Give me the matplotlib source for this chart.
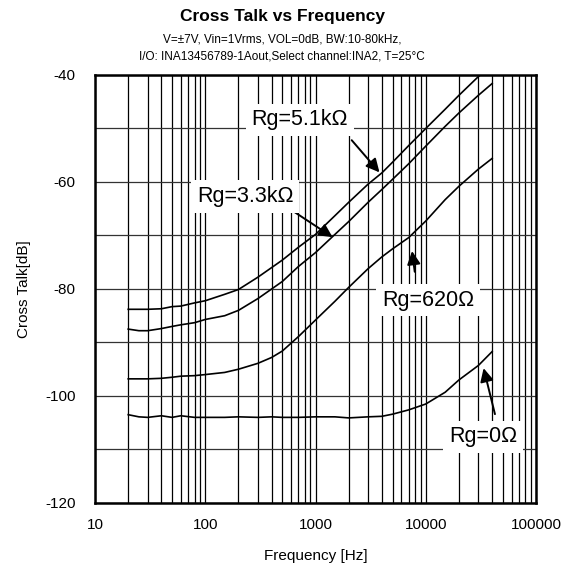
import matplotlib
matplotlib.use("Agg")
import matplotlib.pyplot as plt
from matplotlib.ticker import LogLocator, MultipleLocator, NullFormatter

plt.rcParams['font.family'] = ['Liberation Sans', 'DejaVu Sans']
plt.rcParams['axes.unicode_minus'] = False

freq = [20, 25, 30, 40, 50, 60, 80, 100, 150, 200, 300, 400, 500, 700,
        1000, 1500, 2000, 3000, 4000, 5000, 7000, 10000, 15000, 20000, 30000, 40000]

ct_5k1 = [-83.8, -83.8, -83.8, -83.7, -83.3, -83.2, -82.6, -82.2, -81.0, -80.1, -77.8, -76.0, -74.6, -72.2,
          -69.8, -66.3, -63.8, -60.4, -58.3, -56.3, -53.2, -50.0, -46.4, -43.8, -40.3, -38.3]
ct_3k3 = [-87.5, -87.8, -87.8, -87.4, -87.0, -86.7, -86.3, -85.7, -85.0, -84.0, -81.8, -80.0, -78.6, -75.8,
          -73.2, -69.8, -67.4, -63.8, -61.4, -59.5, -56.6, -53.3, -49.6, -47.1, -43.8, -41.6]
ct_620 = [-96.8, -96.8, -96.8, -96.7, -96.5, -96.3, -96.2, -96.0, -95.6, -95.0, -93.9, -92.8, -91.6, -88.9,
          -85.8, -82.3, -79.7, -76.2, -74.0, -72.5, -70.4, -67.3, -63.3, -60.8, -57.6, -55.6]
ct_0 = [-103.5, -103.9, -104.0, -103.7, -104.0, -103.7, -104.0, -104.0, -104.0, -103.9, -104.0, -103.9, -104.0, -104.0,
        -103.9, -103.9, -104.1, -103.9, -103.8, -103.4, -102.6, -101.5, -99.3, -97.0, -94.3, -91.7]

# label text, text position, arrow tip, arrow tail
labels = ["Rg=5.1kΩ", "Rg=3.3kΩ", "Rg=620Ω", "Rg=0Ω"]
label_xy = [(720, -48.4), (230, -62.7), (10500, -82.1), (33000, -107.6)]
tip_xy = [(3950, -58.6), (1500, -70.6), (7450, -72.4), (33000, -94.3)]
tail_xy = [(2050, -51.8), (600, -65.2), (8000, -77.3), (43000, -103.9)]

fig = plt.figure(figsize=(5.68, 5.78), dpi=100)
ax = fig.add_axes([0.1673, 0.1298, 0.7764, 0.7405])

for vals in [ct_5k1, ct_3k3, ct_620, ct_0]:
    ax.plot(freq, vals, color='black', lw=1.2)

ax.set_xscale('log')
ax.set_xlim(10, 100000)
ax.set_ylim(-120, -40)
ax.xaxis.set_minor_locator(LogLocator(base=10, subs=range(2, 10)))
ax.xaxis.set_minor_formatter(NullFormatter())
ax.set_xticks([10, 100, 1000, 10000, 100000])
ax.set_xticklabels(["10", "100", "1000", "10000", "100000"])
ax.yaxis.set_major_locator(MultipleLocator(20))
ax.yaxis.set_minor_locator(MultipleLocator(10))
ax.grid(True, which='both', axis='x', color='black', lw=0.9)
ax.grid(True, which='both', axis='y', color='#333333', lw=0.9)
ax.tick_params(which='both', length=0, labelsize=11)
ax.tick_params(axis='y', pad=14)
ax.tick_params(axis='x', pad=11)
for s in ax.spines.values():
    s.set_linewidth(1.8)

for txt, (tx, ty), (hx, hy), (sx, sy) in zip(labels, label_xy, tip_xy, tail_xy):
    ax.annotate("", xy=(hx, hy), xytext=(sx, sy),
                arrowprops=dict(arrowstyle='-|>', color='black', lw=1.4, mutation_scale=20))
    ax.text(tx, ty, txt, fontsize=15.5, ha='center', va='center',
            bbox=dict(facecolor='white', edgecolor='none', pad=4))

ax.set_xlabel("Frequency [Hz]", fontsize=11, labelpad=12)
ax.set_ylabel("Cross Talk[dB]", fontsize=11, labelpad=10)

fig.text(0.497, 0.9706, "Cross Talk vs Frequency", fontsize=12.5, fontweight='bold', ha='center', va='center')
fig.text(0.497, 0.9325, "V=±7V, Vin=1Vrms, VOL=0dB, BW:10-80kHz,", fontsize=8.5, ha='center', va='center')
fig.text(0.497, 0.9031, "I/O: INA13456789-1Aout,Select channel:INA2, T=25°C", fontsize=8.5, ha='center', va='center')

fig.savefig("out.png", dpi=100)
